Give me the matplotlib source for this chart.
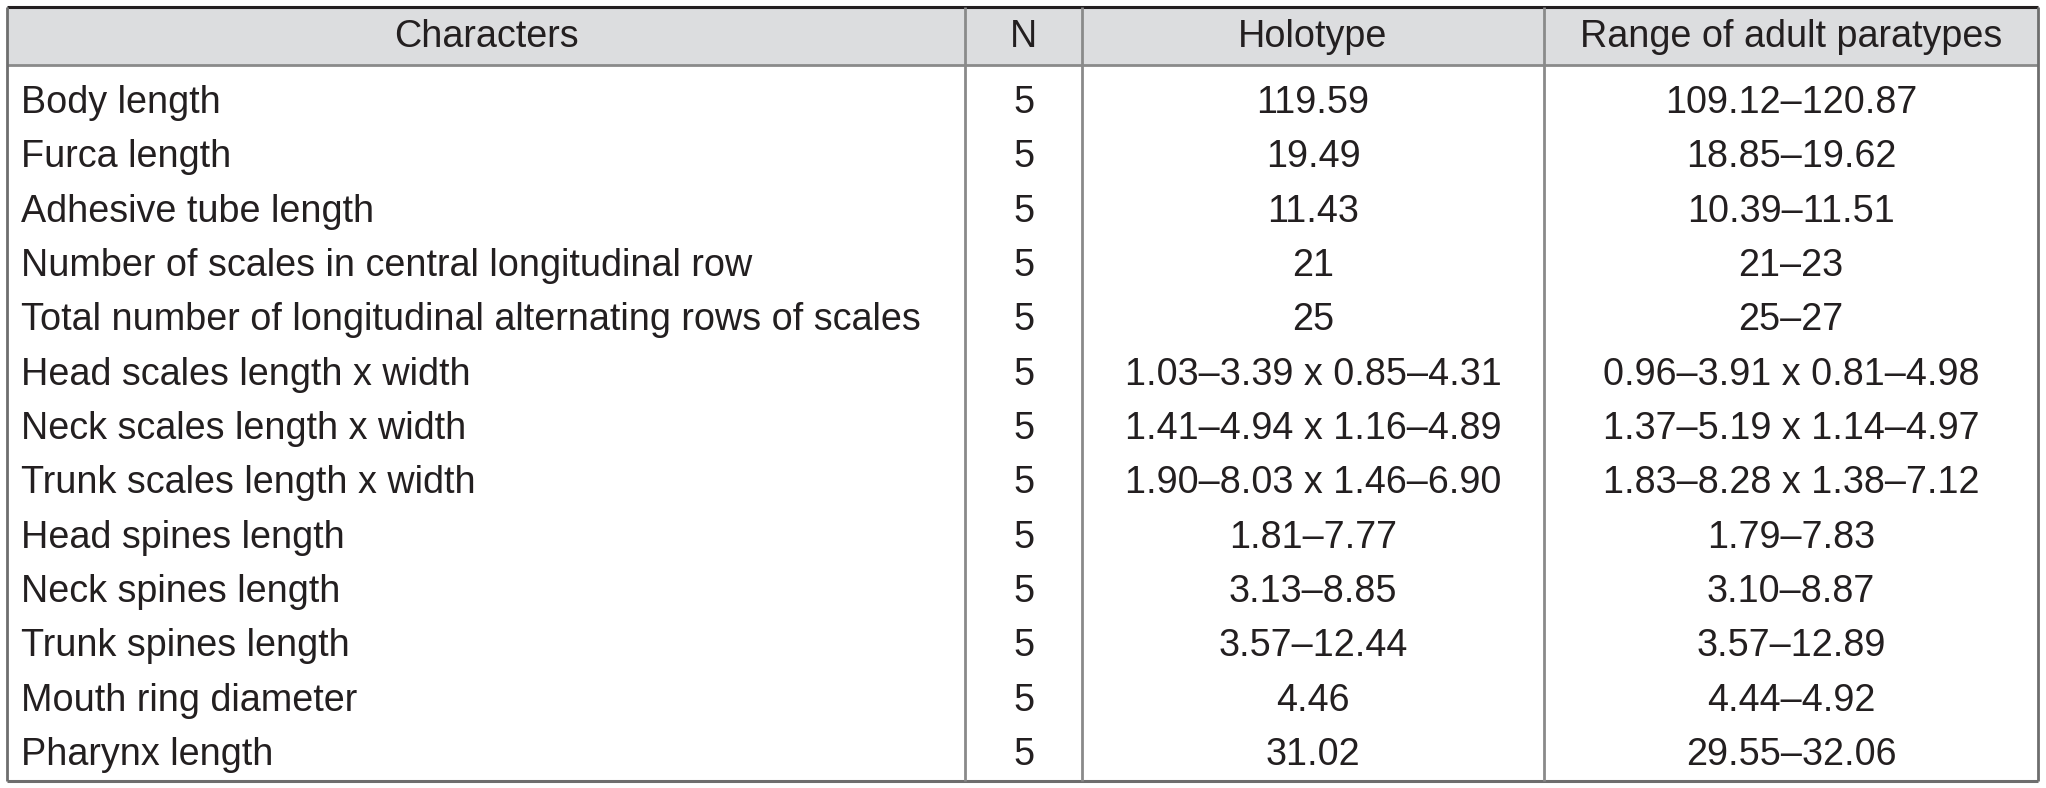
import matplotlib
matplotlib.use("Agg")
import matplotlib.pyplot as plt
from matplotlib.patches import Rectangle

headers = ["Characters", "N", "Holotype", "Range of adult paratypes"]
characters = [
    "Body length",
    "Furca length",
    "Adhesive tube length",
    "Number of scales in central longitudinal row",
    "Total number of longitudinal alternating rows of scales",
    "Head scales length x width",
    "Neck scales length x width",
    "Trunk scales length x width",
    "Head spines length",
    "Neck spines length",
    "Trunk spines length",
    "Mouth ring diameter",
    "Pharynx length",
]
n_values = [5] * 13
holotype = [
    "119.59", "19.49", "11.43", "21", "25",
    "1.03–3.39 x 0.85–4.31", "1.41–4.94 x 1.16–4.89", "1.90–8.03 x 1.46–6.90",
    "1.81–7.77", "3.13–8.85", "3.57–12.44", "4.46", "31.02",
]
paratypes = [
    "109.12–120.87", "18.85–19.62", "10.39–11.51", "21–23", "25–27",
    "0.96–3.91 x 0.81–4.98", "1.37–5.19 x 1.14–4.97", "1.83–8.28 x 1.38–7.12",
    "1.79–7.83", "3.10–8.87", "3.57–12.89", "4.44–4.92", "29.55–32.06",
]

W, H = 2046, 788
fig = plt.figure(figsize=(W / 100, H / 100), dpi=100)
ax = fig.add_axes([0, 0, 1, 1])
ax.set_xlim(0, W)
ax.set_ylim(H, 0)
ax.axis("off")

font = ["Liberation Sans", "DejaVu Sans"]
txt_color = "#231f20"
line_color = "#8a8a8a"
fs = 27.2
cap_half = 0.716 * fs * 100 / 72 / 2  # half cap height in pixels

left, right = 7, 2038
top, head_bot, bottom = 7, 65, 781
col_x = [left, 965, 1082, 1544, right]

# header background
ax.add_patch(Rectangle((left, top), right - left, head_bot - top,
                       facecolor="#dcdddf", edgecolor="none", zorder=0))

# borders
ax.plot([left, right], [top, top], color="#231f20", lw=2.2, solid_capstyle="butt")
ax.plot([left, right], [head_bot, head_bot], color=line_color, lw=2, solid_capstyle="butt")
ax.plot([left, right], [bottom, bottom], color="#6e6e6e", lw=2.2, solid_capstyle="butt")
for i, x in enumerate(col_x):
    lc = "#6e6e6e" if i in (0, len(col_x) - 1) else line_color
    ax.plot([x, x], [top, bottom], color=lc, lw=2, solid_capstyle="butt")

def put(x, yc, s, ha):
    ax.text(x, yc + cap_half, s, ha=ha, va="baseline", fontsize=fs,
            family=font, color=txt_color)

# header texts
hy = (top + head_bot) / 2 - 2.5
for i, h in enumerate(headers):
    cx = (col_x[i] + col_x[i + 1]) / 2
    put(cx, hy, h, "center")

# body rows
y0, dy = 99.5, 54.33
for r in range(len(characters)):
    y = y0 + r * dy
    put(21, y, characters[r], "left")
    vals = [str(n_values[r]), holotype[r], paratypes[r]]
    for j, v in enumerate(vals):
        cx = (col_x[j + 1] + col_x[j + 2]) / 2
        put(cx, y, v, "center")

fig.savefig("out.png", dpi=100, facecolor="white")
